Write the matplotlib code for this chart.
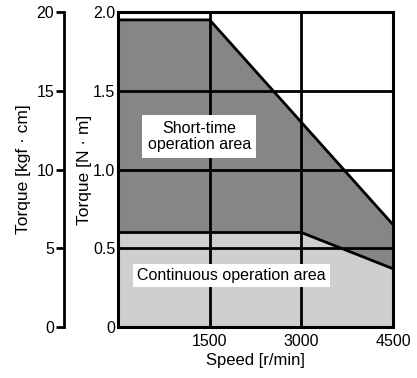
import numpy as np
import matplotlib.pyplot as plt

plt.rcParams['font.family'] = ['Liberation Sans', 'DejaVu Sans']

# speed-torque characteristics
speed_short = [0, 1500, 4500]
torque_short = [1.95, 1.95, 0.65]   # N·m, short-time limit
speed_cont = [0, 3000, 4500]
torque_cont = [0.6, 0.6, 0.37]      # N·m, continuous limit

x_ticks = [1500, 3000, 4500]
y_ticks = [0, 0.5, 1.0, 1.5, 2.0]
y_tick_labels = ['0', '0.5', '1.0', '1.5', '2.0']
kgf_ticks = [0, 5, 10, 15, 20]

fig = plt.figure(figsize=(4.17, 3.78), dpi=100)
ax = fig.add_axes([118 / 417, 1 - 327 / 378, 275 / 417, 315 / 378])

# shaded areas
ax.fill([0] + speed_short + [4500], [0] + torque_short + [0],
        color='#868686', lw=0, zorder=1)
ax.fill([0] + speed_cont + [4500], [0] + torque_cont + [0],
        color='#cfcfcf', lw=0, zorder=2)

# grid
for xv in x_ticks[:-1]:
    ax.axvline(xv, color='black', lw=2, zorder=3)
for yv in y_ticks[1:-1]:
    ax.axhline(yv, color='black', lw=2, zorder=3)

ax.plot(speed_short, torque_short, color='black', lw=2, zorder=4)
ax.plot(speed_cont, torque_cont, color='black', lw=2, zorder=4)

ax.text(1330, 1.21, 'Short-time\noperation area', ha='center', va='center',
        fontsize=11.5, linespacing=1.1, zorder=5,
        bbox=dict(facecolor='white', edgecolor='none', pad=4))
ax.text(1850, 0.325, 'Continuous operation area', ha='center', va='center',
        fontsize=11.5, zorder=5,
        bbox=dict(facecolor='white', edgecolor='none', pad=3))

ax.set_xlim(0, 4500)
ax.set_ylim(0, 2.0)
ax.set_xticks(x_ticks)
ax.set_yticks(y_ticks)
ax.set_yticklabels(y_tick_labels)
ax.tick_params(length=0, labelsize=11.5, pad=5)
ax.tick_params(axis='y', pad=2)
for s in ax.spines.values():
    s.set_linewidth(2.2)
    s.set_zorder(6)
ax.set_xlabel('Speed [r/min]', fontsize=12, labelpad=3)
ax.set_ylabel('Torque [N · m]', fontsize=12.5, labelpad=1)

# secondary scale in kgf·cm
ax2 = fig.add_axes([64 / 417, 1 - 327 / 378, 0.001, 315 / 378])
ax2.set_ylim(0, 20)
ax2.set_yticks(kgf_ticks)
ax2.set_xticks([])
for side in ['top', 'right', 'bottom']:
    ax2.spines[side].set_visible(False)
ax2.spines['left'].set_linewidth(2)
ax2.patch.set_visible(False)
ax2.tick_params(axis='y', length=6, width=2, labelsize=11.5, pad=1)
ax2.set_ylabel('Torque [kgf · cm]', fontsize=12.5, labelpad=4)

fig.savefig('out.png', dpi=100)
